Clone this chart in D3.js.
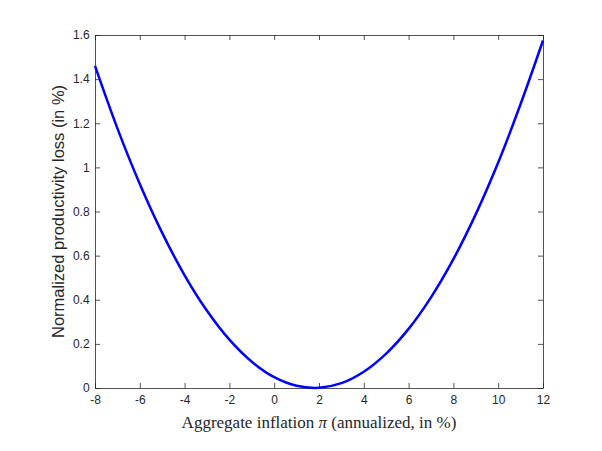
<!DOCTYPE html>
<html><head><meta charset="utf-8">
<script src="https://cdn.jsdelivr.net/npm/d3@7"></script>
<style>body{margin:0;background:#fff}</style></head>
<body><svg id="c" width="602" height="451"></svg>
<script>
const inflation = [-8,-7,-6,-5,-4,-3,-2,-1,0,1,2,3,4,5,6,7,8,9,10,11,12];
const loss = [1.46,1.177,0.925,0.703,0.511,0.350,0.219,0.119,0.049,0.010,0.001,0.022,0.074,0.156,0.268,0.411,0.584,0.788,1.022,1.287,1.575];
const xTicks = [-8,-6,-4,-2,0,2,4,6,8,10,12];
const yTicks = [0,0.2,0.4,0.6,0.8,1,1.2,1.4,1.6];

const L=95,R=543,T=35,B=388;
const svg=d3.select("#c");
const x=d3.scaleLinear().domain([-8,12]).range([L,R]);
const y=d3.scaleLinear().domain([0,1.6]).range([B,T]);
const font="Liberation Sans, Arial, sans-serif";
const ax=svg.append("g").attr("transform",`translate(0,${B})`).call(d3.axisBottom(x).tickValues(xTicks).tickSize(-5).tickSizeOuter(0).tickFormat(d=>String(d)));
const axT=svg.append("g").attr("transform",`translate(0,${T})`).call(d3.axisTop(x).tickValues(xTicks).tickSize(-5).tickSizeOuter(0).tickFormat(""));
const ay=svg.append("g").attr("transform",`translate(${L},0)`).call(d3.axisLeft(y).tickValues(yTicks).tickSize(-5).tickSizeOuter(0).tickFormat(d=>String(d)));
const ayR=svg.append("g").attr("transform",`translate(${R},0)`).call(d3.axisRight(y).tickValues(yTicks).tickSize(-5).tickSizeOuter(0).tickFormat(""));
[ax,axT,ay,ayR].forEach(g=>{g.selectAll("path,line").attr("stroke","#262626").attr("stroke-width",0.8);g.selectAll("text").attr("font-family",font).attr("font-size",12).attr("fill","#262626");});
ax.selectAll("text").attr("dy","1.1em");
ay.selectAll("text").attr("dx","-0.2em");
svg.append("path").datum(inflation.map((v,i)=>[v,loss[i]]))
 .attr("d",d3.line().x(d=>x(d[0])).y(d=>y(d[1])).curve(d3.curveCatmullRom))
 .attr("fill","none").attr("stroke","#0000ff").attr("stroke-width",2.5);
svg.append("text").attr("x",(L+R)/2).attr("y",428).attr("text-anchor","middle")
 .attr("font-family","Liberation Serif, Times New Roman, serif").attr("font-size",17).attr("fill","#262626")
 .html('Aggregate inflation <tspan font-style="italic">π</tspan> (annualized, in %)');
svg.append("text").attr("transform",`translate(64,${(T+B)/2}) rotate(-90)`).attr("text-anchor","middle")
 .attr("font-family",font).attr("font-size",16.5).attr("fill","#262626").text("Normalized productivity loss (in %)");
</script></body></html>
